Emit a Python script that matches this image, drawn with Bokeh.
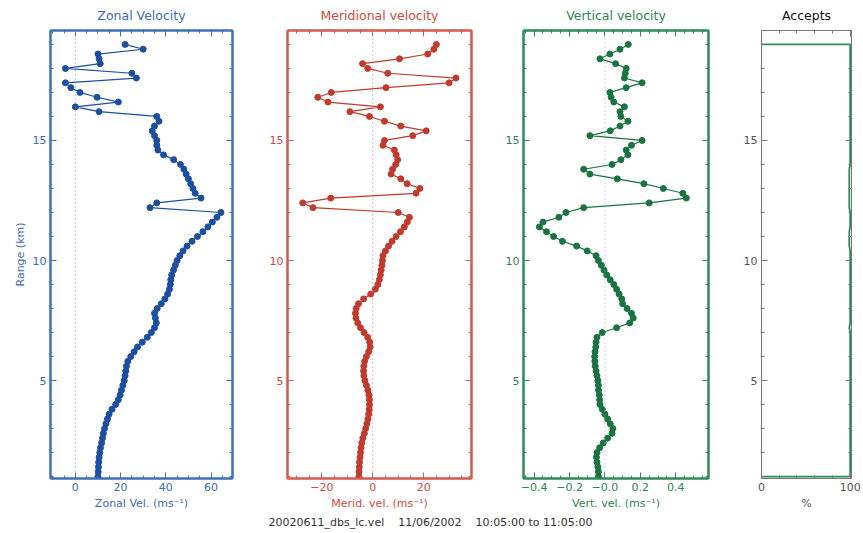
from bokeh.plotting import figure
from bokeh.layouts import row, column
from bokeh.models import FixedTicker, LinearAxis, Span, Range1d, CustomLabelingPolicy
from bokeh.embed import file_html
from bokeh.resources import INLINE
from bokeh.core.properties import value

FONT = "DejaVu Sans"

# Range gates (km), 200 m spacing
RANGE_KM = [round(1.0 + 0.2 * i, 1) for i in range(91)]

# Zonal wind (m/s), one value per gate from 1.0 km upward
ZONAL = [
    10.0, 10.1, 10.2, 10.3, 10.5, 10.8, 11.1, 11.6, 12.0, 12.4,
    12.9, 13.5, 14.2, 14.9, 16.2, 17.8, 19.0, 19.8, 20.4, 21.0,
    21.6, 22.0, 22.3, 22.6, 23.2, 24.5, 26.0, 27.5, 29.6, 31.8,
    33.6, 35.0, 35.8, 35.4, 35.0, 36.2, 38.0, 39.6, 40.8, 41.6,
    42.0, 42.2, 42.6, 43.4, 44.2, 45.0, 46.2, 47.6, 49.4, 51.6,
    54.0, 56.4, 58.6, 60.6, 62.6, 64.4, 33.0, 36.0, 55.6, 53.0,
    52.0, 51.0, 50.0, 49.0, 48.0, 46.5, 43.5, 39.0, 36.5, 36.0,
    36.0, 35.0, 34.0, 35.0, 37.0, 36.0, 10.5, 0.0, 19.0, 9.6,
    2.0, -2.0, -4.4, 27.0, 25.0, -4.4, 11.0, 10.5, 10.0, 30.0,
    22.0,
]

# Meridional wind (m/s)
MERIDIONAL = [
    -5.4, -5.4, -5.3, -5.2, -5.0, -4.8, -4.6, -4.3, -3.9, -3.3,
    -2.8, -2.3, -1.9, -1.6, -1.4, -1.3, -1.3, -1.5, -1.9, -2.5,
    -3.1, -3.5, -3.6, -3.5, -3.2, -2.5, -1.6, -1.0, -1.2, -2.0,
    -3.4, -4.8, -5.9, -6.6, -6.8, -6.5, -5.6, -3.6, -0.8, 1.0,
    2.0, 2.6, 3.0, 3.3, 3.6, 3.8, 4.0, 5.0, 6.2, 7.6,
    9.2, 10.9, 12.4, 13.6, 14.4, 10.0, -23.5, -27.5, -16.5, 17.0,
    18.5, 13.5, 11.0, 7.2, 7.8, 9.0, 9.8, 9.2, 8.5, 4.0,
    4.6, 15.7, 21.0, 11.0, 4.6, -1.3, -9.0, 3.0, -17.6, -21.6,
    -16.3, 5.2, 30.0, 32.7, 5.9, -2.0, -4.0, 10.5, 21.6, 24.0,
    25.0,
]

# Vertical wind (m/s)
VERTICAL = [
    -0.037, -0.037, -0.040, -0.045, -0.048, -0.045, -0.030, -0.010, 0.015, 0.040,
    0.045, 0.030, 0.015, 0.000, -0.015, -0.028, -0.030, -0.032, -0.036, -0.037,
    -0.040, -0.045, -0.050, -0.055, -0.057, -0.058, -0.056, -0.052, -0.050, -0.045,
    -0.015, 0.066, 0.140, 0.160, 0.150, 0.125, 0.100, 0.095, 0.080, 0.066,
    0.050, 0.030, 0.010, -0.005, -0.020, -0.037, -0.050, -0.100, -0.160, -0.240,
    -0.290, -0.330, -0.370, -0.350, -0.260, -0.220, -0.120, 0.250, 0.460, 0.440,
    0.330, 0.220, 0.070, -0.085, -0.120, 0.040, 0.090, 0.130, 0.120, 0.150,
    0.210, -0.085, 0.030, 0.085, 0.130, 0.090, 0.085, 0.110, 0.050, 0.035,
    0.028, 0.120, 0.210, 0.110, 0.115, 0.120, 0.060, -0.028, 0.028, 0.085,
    0.132,
]

# Percentage of accepted spectra per gate
ACCEPTS = [
    100, 100, 100, 100, 100, 100, 100, 100, 100, 100,
    100, 100, 100, 100, 100, 100, 100, 100, 100, 100,
    100, 100, 100, 100, 100, 100, 100, 100, 100, 100,
    100, 99, 100, 100, 100, 100, 100, 100, 100, 100,
    100, 100, 100, 100, 100, 100, 100, 100, 99, 99,
    99, 99, 100, 100, 100, 100, 99, 99, 99, 99,
    99, 99, 99, 99, 99, 100, 100, 100, 100, 100,
    100, 100, 100, 100, 100, 100, 100, 100, 100, 100,
    100, 100, 100, 100, 100, 100, 100, 100, 100, 100,
    100,
]

Y_MAJOR = [5, 10, 15]
Y_MINOR = [1, 2, 3, 4, 6, 7, 8, 9, 11, 12, 13, 14, 16, 17, 18, 19]
Y_RANGE = (0.92, 19.58)

NB = "\u00a0"
CAPTION = ("20020611_dbs_lc.vel" + NB * 4 + "11/06/2002" + NB * 4
           + "10:05:00" + NB + "to" + NB + "11:05:00")

# mirrored axes carry ticks only
NO_LABELS = "for (const i of Array.from(indices)) indices.unset(i); return indices"


def style_axis(ax, color, label_color, show_labels=True):
    ax.axis_line_color = color
    ax.axis_line_width = 2
    ax.major_tick_line_color = color
    ax.minor_tick_line_color = color
    ax.major_tick_line_width = 1
    ax.major_tick_in = 6
    ax.major_tick_out = 0
    ax.minor_tick_in = 3
    ax.minor_tick_out = 0
    ax.major_label_text_color = label_color
    ax.major_label_text_font = FONT
    ax.major_label_text_font_size = "11px"
    ax.major_label_standoff = 4
    if not show_labels:
        ax.major_label_policy = CustomLabelingPolicy(code=NO_LABELS)
        ax.major_label_standoff = 0
    ax.axis_label_text_color = label_color
    ax.axis_label_text_font = FONT
    ax.axis_label_text_font_size = "11px"
    ax.axis_label_text_font_style = "normal"
    ax.axis_label_standoff = 3


def panel(title, frame_color, text_color, x_range, x_major, x_minor, x_labels,
          x_label, border_left, frame_w, border_right, y_label=None):
    p = figure(
        frame_width=frame_w, frame_height=448,
        min_border_left=border_left, min_border_right=border_right,
        min_border_top=30, min_border_bottom=35,
        x_range=Range1d(*x_range), y_range=Range1d(*Y_RANGE),
        toolbar_location=None, output_backend="svg",
        title=title,
    )
    p.title.align = "center"
    p.title.text_color = text_color
    p.title.text_font = FONT
    p.title.text_font_size = "12.5px"
    p.title.text_font_style = "normal"
    p.title.offset = 0
    p.title.standoff = -6
    p.grid.visible = False
    p.outline_line_color = frame_color
    p.outline_line_width = 2
    p.background_fill_color = "white"
    p.border_fill_color = "white"

    xt = FixedTicker(ticks=x_major, minor_ticks=x_minor)
    yt = FixedTicker(ticks=Y_MAJOR, minor_ticks=Y_MINOR)

    bx = p.xaxis[0]
    bx.ticker = xt
    bx.axis_label = x_label
    bx.major_label_overrides = x_labels
    style_axis(bx, frame_color, text_color)

    ly = p.yaxis[0]
    ly.ticker = yt
    if y_label:
        ly.axis_label = y_label
    style_axis(ly, frame_color, text_color)

    top = LinearAxis(ticker=xt)
    style_axis(top, frame_color, text_color, show_labels=False)
    p.add_layout(top, "above")

    right = LinearAxis(ticker=yt)
    style_axis(right, frame_color, text_color, show_labels=False)
    p.add_layout(right, "right")
    return p


# Zonal
BLUE_FRAME, BLUE_TEXT, BLUE_DATA = "#3f70b8", "#3b6cb5", "#1d4e9f"
p1 = panel("Zonal Velocity", BLUE_FRAME, BLUE_TEXT, (-11, 69.5),
           [0, 20, 40, 60], [-10, -5, 5, 10, 15, 25, 30, 35, 45, 50, 55, 65],
           {0: "0", 20: "20", 40: "40", 60: "60"},
           "Zonal Vel. (ms\u207b\u00b9)", 50, 182, 23, y_label="Range (km)")
p1.add_layout(Span(location=0, dimension="height", line_color="#7f9ccc",
                   line_dash="1 3", line_width=1))
p1.line(ZONAL, RANGE_KM, line_color=BLUE_DATA, line_width=1.2)
p1.scatter(ZONAL, RANGE_KM, size=6, color=BLUE_DATA)

# Meridional
RED_FRAME, RED_TEXT, RED_DATA = "#d45a50", "#d04a40", "#c13a2e"
p2 = panel("Meridional velocity", RED_FRAME, RED_TEXT, (-33.5, 38.8),
           [-20, 0, 20], [-30, -25, -15, -10, -5, 5, 10, 15, 25, 30, 35],
           {-20: "\u221220", 0: "0", 20: "20"},
           "Merid. vel. (ms\u207b\u00b9)", 32, 184, 26)
p2.add_layout(Span(location=0, dimension="height", line_color="#b08080",
                   line_dash="1 3", line_width=1))
p2.line(MERIDIONAL, RANGE_KM, line_color=RED_DATA, line_width=1.2)
p2.scatter(MERIDIONAL, RANGE_KM, size=6, color=RED_DATA)

# Vertical
GREEN_FRAME, GREEN_TEXT, GREEN_DATA = "#2f8a5a", "#2a8555", "#1a7442"
p3 = panel("Vertical velocity", GREEN_FRAME, GREEN_TEXT, (-0.46, 0.585),
           [-0.4, -0.2, 0, 0.2, 0.4],
           [-0.45, -0.35, -0.3, -0.25, -0.15, -0.1, -0.05, 0.05, 0.1, 0.15,
            0.25, 0.3, 0.35, 0.45, 0.5, 0.55],
           {-0.4: "\u22120.4", -0.2: "\u22120.2", 0: "\u22120.0", 0.2: "0.2", 0.4: "0.4"},
           "Vert. vel. (ms\u207b\u00b9)", 26, 185, 27)
p3.add_layout(Span(location=0, dimension="height", line_color="#8fb8a0",
                   line_dash="1 3", line_width=1))
p3.line(VERTICAL, RANGE_KM, line_color=GREEN_DATA, line_width=1.2)
p3.scatter(VERTICAL, RANGE_KM, size=6, color=GREEN_DATA)

# Accepts
GREY_FRAME, GREY_TEXT, ACC_LINE = "#777777", "#555555", "#2a8a58"
p4 = panel("Accepts", GREY_FRAME, GREY_TEXT, (0, 101.5),
           [0, 100], [20, 40, 60, 80], {0: "0", 100: "100"},
           "%", 26, 90, 12)
p4.title.text_color = "#111111"
p4.outline_line_width = 1
for ax in p4.axis:
    ax.axis_line_width = 1
acc_x = [0] + ACCEPTS + [0]
acc_y = [RANGE_KM[0]] + RANGE_KM + [RANGE_KM[-1]]
p4.line(acc_x, acc_y, line_color=ACC_LINE, line_width=1.8)

# Caption strip
cap = figure(width=863, height=20, x_range=(0, 863), y_range=(0, 20),
             toolbar_location=None, output_backend="svg", min_border=0)
cap.axis.visible = False
cap.grid.visible = False
cap.outline_line_color = None
cap.text(x=[430], y=[11], text=[CAPTION], text_align="center",
         text_baseline="middle", text_font=value(FONT),
         text_font_size="11px", text_color="#333333")

layout = column(row(p1, p2, p3, p4), cap)
open("out.html", "w").write(file_html(layout, INLINE))
